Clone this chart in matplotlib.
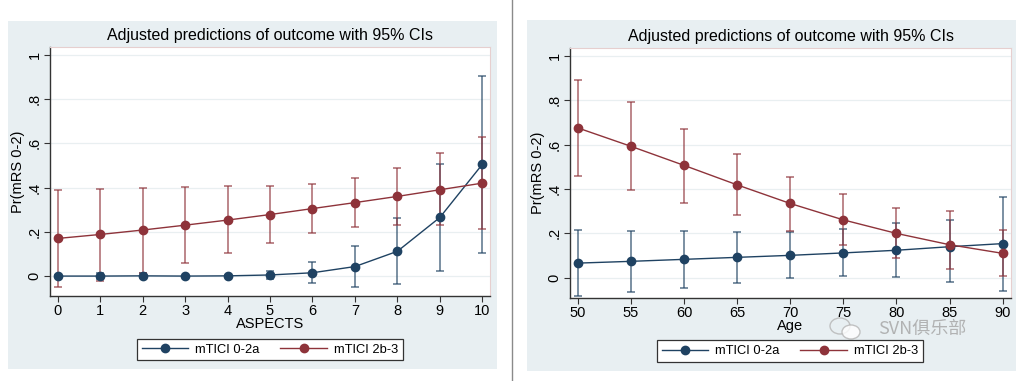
import numpy as np
import matplotlib
matplotlib.use("Agg")
import matplotlib.pyplot as plt
from matplotlib.patches import Rectangle, Ellipse
from matplotlib.lines import Line2D

plt.rcParams['font.family'] = ['Liberation Sans', 'Noto Sans CJK SC', 'DejaVu Sans']

title = "Adjusted predictions of outcome with 95% CIs"
ylabel = "Pr(mRS 0-2)"
series_names = ["mTICI 0-2a", "mTICI 2b-3"]
yticks = [0, 0.2, 0.4, 0.6, 0.8, 1.0]
ytick_labels = ["0", ".2", ".4", ".6", ".8", "1"]

# left panel: ASPECTS
aspects = [0, 1, 2, 3, 4, 5, 6, 7, 8, 9, 10]
asp_low_est = [0.0, 0.0, 0.001, 0.0, 0.001, 0.005, 0.015, 0.043, 0.112, 0.265, 0.505]
asp_low_lo = [-0.003, -0.012, -0.008, -0.002, -0.002, -0.012, -0.03, -0.048, -0.037, 0.024, 0.106]
asp_low_hi = [0.003, 0.012, 0.012, 0.002, 0.004, 0.022, 0.063, 0.135, 0.263, 0.507, 0.906]
asp_high_est = [0.17, 0.188, 0.208, 0.23, 0.253, 0.278, 0.305, 0.332, 0.36, 0.39, 0.42]
asp_high_lo = [-0.05, -0.02, 0.015, 0.06, 0.105, 0.15, 0.193, 0.222, 0.232, 0.229, 0.214]
asp_high_hi = [0.39, 0.395, 0.40, 0.402, 0.405, 0.407, 0.418, 0.444, 0.49, 0.555, 0.63]

# right panel: Age
age = [50, 55, 60, 65, 70, 75, 80, 85, 90]
age_low_est = [0.066, 0.074, 0.083, 0.092, 0.101, 0.112, 0.124, 0.14, 0.154]
age_low_lo = [-0.081, -0.065, -0.045, -0.022, 0.0, 0.008, 0.002, -0.021, -0.058]
age_low_hi = [0.217, 0.212, 0.209, 0.206, 0.207, 0.22, 0.247, 0.261, 0.364]
age_high_est = [0.676, 0.593, 0.507, 0.419, 0.335, 0.261, 0.2, 0.149, 0.11]
age_high_lo = [0.458, 0.396, 0.338, 0.283, 0.212, 0.148, 0.088, 0.039, 0.008]
age_high_hi = [0.894, 0.793, 0.673, 0.556, 0.456, 0.376, 0.315, 0.3, 0.214]

navy = "#1f4262"
maroon = "#8e333a"
bg = "#e8eff2"

W, H = 1024, 381
fig = plt.figure(figsize=(W / 100, H / 100), dpi=100)

def rect_px(x0, y0, x1, y1, **kw):
    fig.patches.append(Rectangle((x0 / W, 1 - y1 / H), (x1 - x0) / W, (y1 - y0) / H,
                                 transform=fig.transFigure, figure=fig, **kw))

rect_px(8, 21, 497, 369, facecolor=bg, edgecolor="none", zorder=-5)
rect_px(527, 20, 1016, 371, facecolor=bg, edgecolor="none", zorder=-5)
fig.add_artist(Line2D([511.5 / W, 511.5 / W], [0, 1], color="#8a8a8a", lw=1.0,
                      transform=fig.transFigure))


def panel(rect, x, est_sets, xlim, xlabel, legend_box):
    ax = fig.add_axes(rect)
    ax.set_facecolor("white")
    for (est, lo, hi), col in zip(est_sets, [navy, maroon]):
        est = np.array(est)
        err = [est - np.array(lo), np.array(hi) - est]
        ax.errorbar(x, est, yerr=err, fmt="none", ecolor=col, alpha=0.75,
                    elinewidth=1.1, capsize=3, capthick=1.1, zorder=2)
        ax.plot(x, est, color=col, lw=1.0, zorder=3)
        ax.plot(x, est, "o", color=col, ms=6, zorder=4)
    ax.set_xlim(*xlim)
    ax.set_ylim(-0.09, 1.035)
    ax.set_xticks(x)
    ax.set_yticks(yticks)
    ax.set_yticklabels(ytick_labels, rotation=90, va="center")
    ax.tick_params(labelsize=10.5, length=4, color="#333333", pad=2)
    for t in yticks:
        ax.axhline(t, color="#e9eff1", lw=0.9, zorder=1)
    for s in ["left", "bottom"]:
        ax.spines[s].set_color("#333333")
        ax.spines[s].set_linewidth(1.0)
    for s in ["top", "right"]:
        ax.spines[s].set_color("#e6cfcf")
        ax.spines[s].set_linewidth(0.8)
    ax.set_xlabel(xlabel, fontsize=10.5, labelpad=-1)
    ax.set_ylabel(ylabel, fontsize=10.5, labelpad=2)
    ax.set_title(title, fontsize=11.5, pad=5)
    handles = [Line2D([], [], color=c, lw=1.0, marker="o", ms=6) for c in [navy, maroon]]
    leg = fig.legend(handles, series_names, ncol=2, fontsize=9.3, frameon=True,
                     loc="center", bbox_to_anchor=legend_box, fancybox=False,
                     edgecolor="#333333", facecolor="white", framealpha=1,
                     handlelength=3.6, handletextpad=0.55, columnspacing=1.6,
                     borderpad=0.35)
    leg.get_frame().set_linewidth(0.9)
    return ax


panel([50 / W, 1 - 296 / H, 440 / W, 249 / H], aspects,
      [(asp_low_est, asp_low_lo, asp_low_hi), (asp_high_est, asp_high_lo, asp_high_hi)],
      (-0.18, 10.18), "ASPECTS", (270 / W, 1 - 349.5 / H))

panel([570 / W, 1 - 297.7 / H, 441 / W, 249.4 / H], age,
      [(age_low_est, age_low_lo, age_low_hi), (age_high_est, age_high_lo, age_high_hi)],
      (49.27, 90.78), "Age", (790 / W, 1 - 351 / H))

# watermark
fig.add_artist(Ellipse((840 / W, 1 - 326 / H), 20 / W, 16 / H, transform=fig.transFigure,
                       facecolor="none", edgecolor="#b5b5b5", lw=1.0, alpha=0.8))
fig.add_artist(Ellipse((851 / W, 1 - 332 / H), 18 / W, 14 / H, transform=fig.transFigure,
                       facecolor="white", edgecolor="#b5b5b5", lw=1.0, alpha=0.8))
fig.text(922 / W, 1 - 329 / H, "SVN俱乐部", fontsize=13, color="#a8a8a8", alpha=0.85,
         ha="center", va="center", family=["Noto Sans CJK SC", "DejaVu Sans"])

fig.savefig("out.png", dpi=100)
